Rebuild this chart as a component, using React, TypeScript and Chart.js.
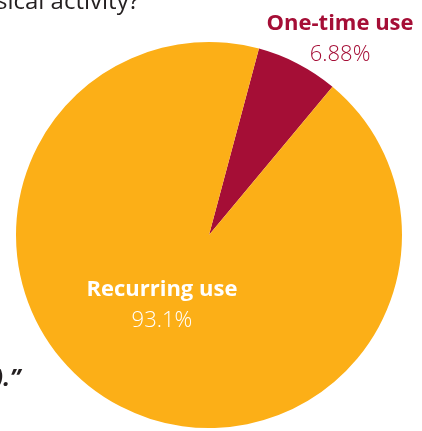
import React, { useEffect, useRef } from "react";
import { Chart, registerables } from "chart.js";

Chart.register(...registerables);

const categories = ["One-time use", "Recurring use"];
const values = [6.88, 93.1];
const valueLabels = ["6.88%", "93.1%"];
const sliceColors = ["#A50E36", "#FCAF17"];
const labelColors = ["#A50E36", "#FFFFFF"];
// label anchor offsets relative to pie centre, in units of the radius
const labelOffsets = [
  { dx: 0.679, dy: -1.06 },
  { dx: -0.244, dy: 0.315 },
];

const labelPlugin = {
  id: "sliceLabels",
  afterDatasetsDraw(chart: any) {
    const ctx = chart.ctx as CanvasRenderingContext2D;
    const meta = chart.getDatasetMeta(0);
    meta.data.forEach((arc: any, i: number) => {
      const r = arc.outerRadius;
      const x = arc.x + labelOffsets[i].dx * r;
      const y = arc.y + labelOffsets[i].dy * r;
      ctx.save();
      ctx.textAlign = "center";
      ctx.textBaseline = "alphabetic";
      ctx.fillStyle = labelColors[i];
      ctx.font = "bold 22px 'Open Sans'";
      ctx.fillText(categories[i], x, y);
      ctx.font = "300 22px 'Open Sans'";
      ctx.fillText(valueLabels[i], x, y + 31);
      ctx.restore();
    });
  },
};

export default function App() {
  const ref = useRef<HTMLCanvasElement | null>(null);
  useEffect(() => {
    if (!ref.current) return;
    const chart = new Chart(ref.current, {
      type: "pie",
      data: {
        labels: categories,
        datasets: [
          {
            data: values,
            backgroundColor: sliceColors,
            borderWidth: 0,
          },
        ],
      },
      options: {
        responsive: false,
        animation: false,
        devicePixelRatio: 1,
        rotation: 15,
        layout: { padding: { left: 16, right: 20, top: 42, bottom: 3 } },
        plugins: {
          legend: { display: false },
          tooltip: { enabled: false },
          title: { display: false },
        },
      },
      plugins: [labelPlugin],
    });
    return () => chart.destroy();
  }, []);
  return (
    <div
      style={{
        position: "fixed",
        left: 0,
        top: 0,
        width: 422,
        height: 431,
        background: "#fff",
        overflow: "hidden",
        fontFamily: "'Open Sans', sans-serif",
      }}
    >
      <canvas ref={ref} width={422} height={431} style={{ position: "absolute", left: 0, top: 0 }} />
      <span
        style={{
          position: "absolute",
          left: -4,
          top: -20,
          fontSize: 24,
          lineHeight: "40px",
          color: "#231F20",
          whiteSpace: "nowrap",
        }}
      >
        sical activity?
      </span>
      <span
        style={{
          position: "absolute",
          left: -5,
          top: 357,
          fontSize: 24,
          lineHeight: "40px",
          color: "#231F20",
          fontStyle: "italic",
          fontWeight: "bold",
          whiteSpace: "nowrap",
        }}
      >
        ).”
      </span>
    </div>
  );
}
